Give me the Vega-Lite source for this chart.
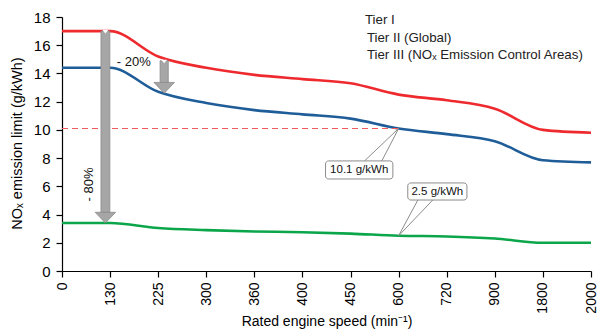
{
  "$schema": "https://vega.github.io/schema/vega-lite/v6.json",
  "width": 529,
  "height": 254,
  "autosize": {"type": "none"},
  "padding": {"left": 62, "top": 17, "right": 6, "bottom": 61},
  "config": {
    "view": {"stroke": null},
    "font": "Liberation Sans",
    "axis": {"grid": false, "domainColor": "#000", "tickColor": "#000", "labelColor": "#000", "titleColor": "#000", "labelFont": "Liberation Sans", "titleFont": "Liberation Sans", "titleFontWeight": "normal", "labelFontSize": 14, "titleFontSize": 14, "tickSize": 6, "domainWidth": 1.2, "tickWidth": 1.2}
  },
  "encoding": {
    "x": {"field": "px", "type": "quantitative", "title": "Rated engine speed (min⁻¹)", "scale": {"domain": [0, 11], "nice": false, "zero": false},
      "axis": {"values": [0,1,2,3,4,5,6,7,8,9,10,11], "labelOverlap": false, "labelAngle": -90, "labelPadding": 5, "titlePadding": 1, "labelExpr": "['0','130','225','300','360','400','450','600','720','900','1800','2000'][datum.value]"}},
    "y": {"field": "py", "type": "quantitative", "title": "NOₓ emission limit (g/kWh)", "scale": {"domain": [0, 18], "nice": false},
      "axis": {"values": [0,2,4,6,8,10,12,14,16,18], "labelOverlap": false, "labelSeparation": -20, "labelFontSize": 15, "titleFontSize": 14.5, "labelPadding": 6, "titlePadding": 9, "titleY": 126}}
  },
  "layer": [
    {
      "data": {"values": [
        {"tier": "Tier I", "px": 0, "py": 17.0}, {"tier": "Tier I", "px": 1, "py": 17.0}, {"tier": "Tier I", "px": 2, "py": 15.2}, {"tier": "Tier I", "px": 3, "py": 14.4}, {"tier": "Tier I", "px": 4, "py": 13.9}, {"tier": "Tier I", "px": 5, "py": 13.6}, {"tier": "Tier I", "px": 6, "py": 13.3}, {"tier": "Tier I", "px": 7, "py": 12.5}, {"tier": "Tier I", "px": 8, "py": 12.1}, {"tier": "Tier I", "px": 9, "py": 11.5}, {"tier": "Tier I", "px": 10, "py": 10.0}, {"tier": "Tier I", "px": 11, "py": 9.8},
        {"tier": "Tier II", "px": 0, "py": 14.4}, {"tier": "Tier II", "px": 1, "py": 14.4}, {"tier": "Tier II", "px": 2, "py": 12.7}, {"tier": "Tier II", "px": 3, "py": 11.9}, {"tier": "Tier II", "px": 4, "py": 11.4}, {"tier": "Tier II", "px": 5, "py": 11.1}, {"tier": "Tier II", "px": 6, "py": 10.8}, {"tier": "Tier II", "px": 7, "py": 10.1}, {"tier": "Tier II", "px": 8, "py": 9.7}, {"tier": "Tier II", "px": 9, "py": 9.2}, {"tier": "Tier II", "px": 10, "py": 7.85}, {"tier": "Tier II", "px": 11, "py": 7.7},
        {"tier": "Tier III", "px": 0, "py": 3.4}, {"tier": "Tier III", "px": 1, "py": 3.4}, {"tier": "Tier III", "px": 2, "py": 3.05}, {"tier": "Tier III", "px": 3, "py": 2.9}, {"tier": "Tier III", "px": 4, "py": 2.8}, {"tier": "Tier III", "px": 5, "py": 2.75}, {"tier": "Tier III", "px": 6, "py": 2.65}, {"tier": "Tier III", "px": 7, "py": 2.5}, {"tier": "Tier III", "px": 8, "py": 2.45}, {"tier": "Tier III", "px": 9, "py": 2.3}, {"tier": "Tier III", "px": 10, "py": 2.0}, {"tier": "Tier III", "px": 11, "py": 2.0}
      ]},
      "mark": {"type": "line", "strokeWidth": 2.6, "interpolate": "monotone"},
      "encoding": {
        "color": {"field": "tier", "type": "nominal", "scale": {"domain": ["Tier I", "Tier II", "Tier III"], "range": ["#ee2a2e", "#1f5d99", "#0ba64a"]}, "legend": null}
      }
    },
    {
      "data": {"values": [{"px": 0, "px2": 7, "py": 10.1}]},
      "mark": {"type": "rule", "color": "#f05a5a", "strokeDash": [6, 4], "strokeWidth": 1.2},
      "encoding": {"x2": {"field": "px2"}}
    },
    {
      "data": {"values": [
        {"px": 6.29, "py": 7.8, "px2": 7, "py2": 10.1},
        {"px": 6.65, "py": 7.8, "px2": 7, "py2": 10.1},
        {"px": 7.40, "py": 5.03, "px2": 7, "py2": 2.5},
        {"px": 7.71, "py": 5.03, "px2": 7, "py2": 2.5}
      ]},
      "mark": {"type": "rule", "color": "#8c8c8c", "strokeWidth": 1},
      "encoding": {"x2": {"field": "px2"}, "y2": {"field": "py2"}}
    },
    {
      "data": {"values": [
        {"px": 5.48, "px2": 6.88, "py": 7.80, "py2": 6.52},
        {"px": 7.19, "px2": 8.42, "py": 6.24, "py2": 5.03}
      ]},
      "mark": {"type": "rect", "fill": "white", "stroke": "#8c8c8c", "strokeWidth": 1, "cornerRadius": 3},
      "encoding": {"x2": {"field": "px2"}, "y2": {"field": "py2"}}
    },
    {
      "data": {"values": [
        {"px": 6.18, "py": 7.16, "label": "10.1 g/kWh"},
        {"px": 7.805, "py": 5.63, "label": "2.5 g/kWh"}
      ]},
      "mark": {"type": "text", "fontSize": 11.5, "color": "#111", "align": "center", "baseline": "middle"},
      "encoding": {"text": {"field": "label"}}
    },
    {
      "data": {"values": [
        {"px": 0.81, "px2": 0.995, "py": 17.0, "py2": 4.15},
        {"px": 2.04, "px2": 2.21, "py": 14.9, "py2": 13.35}
      ]},
      "mark": {"type": "rect", "fill": "#a6a6a6", "stroke": "#8a8a8a", "strokeWidth": 0.8},
      "encoding": {"x2": {"field": "px2"}, "y2": {"field": "py2"}}
    },
    {
      "data": {"values": [
        {"px": 0.9025, "py": 3.8},
        {"px": 2.125, "py": 13.0}
      ]},
      "mark": {"type": "point", "shape": "M-1,-0.5L1,-0.5L0,0.55Z", "size": 420, "filled": true, "fill": "#a6a6a6", "stroke": "#8a8a8a", "strokeWidth": 0.8, "opacity": 1}
    },
    {
      "data": {"values": [
        {"px": 0.9025, "py": 16.95},
        {"px": 2.125, "py": 14.85}
      ]},
      "mark": {"type": "point", "shape": "M-1,-0.6L1,-0.6L0,0.6Z", "size": 36, "filled": true, "fill": "white", "strokeWidth": 0, "opacity": 1}
    },
    {
      "data": {"values": [{"px": 1.14, "py": 14.8, "label": "- 20%"}]},
      "mark": {"type": "text", "fontSize": 13, "color": "#111", "align": "left", "baseline": "middle"},
      "encoding": {"text": {"field": "label"}}
    },
    {
      "data": {"values": [{"px": 0.56, "py": 6.13, "label": "- 80%"}]},
      "mark": {"type": "text", "fontSize": 13, "color": "#111", "align": "center", "baseline": "middle", "angle": 270},
      "encoding": {"text": {"field": "label"}}
    },
    {
      "data": {"values": [
        {"px": 6.30, "py": 17.79, "label": "Tier I"},
        {"px": 6.34, "py": 16.51, "label": "Tier II  (Global)"},
        {"px": 6.34, "py": 15.31, "label": "Tier III  (NOₓ Emission Control Areas)"}
      ]},
      "mark": {"type": "text", "fontSize": 13.3, "color": "#222", "align": "left", "baseline": "middle"},
      "encoding": {"text": {"field": "label"}}
    }
  ]
}
